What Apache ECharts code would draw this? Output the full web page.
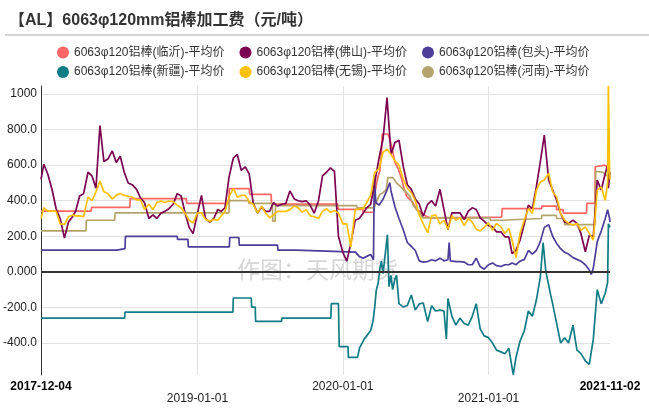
<!DOCTYPE html>
<html><head><meta charset="utf-8">
<script src="https://cdn.jsdelivr.net/npm/echarts/dist/echarts.min.js"></script>
<style>html,body{margin:0;padding:0;background:#fff}#c{width:649px;height:419px}</style>
</head><body><div id="c"></div>
<script>
const titleText = '【AL】6063φ120mm铝棒加工费（元/吨）';
const seriesNames = ['6063φ120铝棒(临沂)-平均价','6063φ120铝棒(佛山)-平均价','6063φ120铝棒(包头)-平均价','6063φ120铝棒(新疆)-平均价','6063φ120铝棒(无锡)-平均价','6063φ120铝棒(河南)-平均价'];
const xLabelDates = ['2017-12-04','2019-01-01','2020-01-01','2021-01-01','2021-11-02'];
const yearLines = ['2019-01-01','2020-01-01','2021-01-01'];

const gridDates = [
'2017-12-04','2017-12-11','2017-12-21',
'2018-01-01','2018-01-11','2018-01-21','2018-02-01','2018-02-11','2018-02-21','2018-03-01','2018-03-11','2018-03-21','2018-04-01','2018-04-11','2018-04-21','2018-05-01','2018-05-11','2018-05-21','2018-06-01','2018-06-11','2018-06-21','2018-07-01','2018-07-11','2018-07-21','2018-08-01','2018-08-11','2018-08-21','2018-09-01','2018-09-11','2018-09-21','2018-10-01','2018-10-11','2018-10-21','2018-11-01','2018-11-11','2018-11-21','2018-12-01','2018-12-11','2018-12-21',
'2019-01-01','2019-01-11','2019-01-21','2019-02-01','2019-02-11','2019-02-21','2019-03-01','2019-03-11','2019-03-21','2019-04-01','2019-04-11','2019-04-21','2019-05-01','2019-05-11','2019-05-21','2019-06-01','2019-06-11','2019-06-21','2019-07-01','2019-07-11','2019-07-21','2019-08-01','2019-08-11','2019-08-21','2019-09-01','2019-09-11','2019-09-21','2019-10-01','2019-10-11','2019-10-21','2019-11-01','2019-11-11','2019-11-21','2019-12-01','2019-12-11','2019-12-21',
'2020-01-01','2020-01-11','2020-01-21','2020-02-01','2020-02-11','2020-02-21','2020-03-01','2020-03-11','2020-03-21','2020-04-01','2020-04-11','2020-04-21','2020-05-01','2020-05-11','2020-05-21','2020-06-01','2020-06-11','2020-06-21','2020-07-01','2020-07-11','2020-07-21','2020-08-01','2020-08-11','2020-08-21','2020-09-01','2020-09-11','2020-09-21','2020-10-01','2020-10-11','2020-10-21','2020-11-01','2020-11-11','2020-11-21','2020-12-01','2020-12-11','2020-12-21',
'2021-01-01','2021-01-11','2021-01-21','2021-02-01','2021-02-11','2021-02-21','2021-03-01','2021-03-11','2021-03-21','2021-04-01','2021-04-11','2021-04-21','2021-05-01','2021-05-11','2021-05-21','2021-06-01','2021-06-11','2021-06-21','2021-07-01','2021-07-11','2021-07-21','2021-08-01','2021-08-11','2021-08-21','2021-09-01','2021-09-11','2021-09-21','2021-10-01','2021-10-11','2021-10-21','2021-10-27','2021-10-29','2021-11-01','2021-11-02'
];

// 佛山
const foshanVals = [
520,605,550,
460,355,300, 190,280,310, 341,426,440, 560,540,470, 823,620,634, 680,615,650, 560,500,490, 464,415,389, 300,320,300, 330,340,355, 380,440,426, 330,250,215,
330,430,300, 280,300,351, 340,360,530, 640,660,570, 590,550,385, 330,365,340, 340,390,370, 380,385,455, 410,400,395, 400,375,330, 400,540,560, 585,565,200,
110,60,160, 290,300,330, 360,380,500, 640,747,980, 660,728,740, 590,490,464, 410,380,313, 380,400,370, 464,350,238, 332,332,332, 294,341,360, 351,304,285,
260,253,225, 225,197,197, 103,122,178, 272,375,356, 478,619,769, 516,460,403, 328,281,272, 291,272,216, 113,206,197, 516,460,553, 600,470,540,560
];
// 无锡
const wuxiVals = [
300,360,341,
341,341,270, 266,310,320, 315,315,310, 420,400,450, 510,450,440, 410,430,440, 430,425,420, 405,405,351, 380,350,390, 398,390,398, 395,375,360, 330,290,275,
332,332,295, 285,295,290, 313,340,420, 470,420,430, 430,395,380, 330,370,330, 304,320,340, 340,340,350, 370,360,335, 350,315,310, 300,340,355, 335,345,330,
270,270,140, 350,355,355, 390,430,558, 580,672,690, 660,625,600, 520,470,445, 400,320,270, 220,315,320, 270,290,240, 315,290,305, 260,300,280, 240,230,250,
275,234,272, 253,216,244, 178,80,216, 291,356,328, 460,506,516, 553,450,422, 328,291,272, 263,272,234, 253,216,178, 460,478,403, 497,1045,560,520
];
// 临沂
const linyiPts = [
['2017-12-04',341],['2018-04-09',341],['2018-04-10',362],['2018-07-15',362],['2018-07-16',412],['2018-12-04',412],['2018-12-05',385],['2019-03-21',385],['2019-03-22',468],['2019-05-11',468],['2019-05-12',436],['2019-07-05',436],['2019-07-06',381],['2019-12-19',381],['2019-12-20',351],['2020-02-20',351],['2020-02-21',335],['2020-03-19',335],['2020-03-22',445],['2020-03-26',502],['2020-03-30',540],['2020-04-03',568],['2020-04-07',672],['2020-04-09',775],['2020-04-23',775],['2020-04-28',747],['2020-05-02',709],['2020-05-06',672],['2020-05-11',615],['2020-05-19',580],['2020-05-28',521],['2020-06-01',483],['2020-06-09',426],['2020-06-17',408],['2020-06-25',389],['2020-07-04',351],['2020-07-12',341],['2020-07-20',323],['2020-07-29',313],['2020-08-06',304],['2021-02-03',308],['2021-02-04',355],['2021-05-14',355],['2021-05-15',370],['2021-06-20',370],['2021-06-21',350],['2021-07-07',350],['2021-07-08',330],['2021-09-04',330],['2021-09-05',385],['2021-09-25',385],['2021-09-26',591],['2021-10-20',600],['2021-11-02',580]
];
// 包头
const baotouPts = [
['2017-12-04',122],['2018-06-13',122],['2018-06-14',131],['2018-07-03',131],['2018-07-04',200],['2018-11-11',200],['2018-11-12',183],['2018-12-08',183],['2018-12-09',140],['2019-03-22',140],['2019-03-23',193],['2019-04-15',193],['2019-04-16',150],['2019-07-21',150],['2019-07-22',122],['2019-09-06',122],['2019-09-07',111],['2020-02-02',111],
['2020-02-11',87],['2020-02-21',77],['2020-03-01',87],['2020-03-11',98],['2020-03-18',68],['2020-03-20',540],['2020-03-24',390],['2020-04-01',375],['2020-04-11',408],['2020-04-21',460],['2020-04-28',502],['2020-05-01',455],['2020-05-11',365],['2020-05-21',300],['2020-06-01',235],['2020-06-11',165],['2020-06-21',143],['2020-07-01',120],['2020-07-11',62],['2020-07-21',55],['2020-08-01',58],['2020-08-11',68],['2020-08-21',62],['2020-09-01',77],['2020-09-11',62],['2020-09-21',68],['2020-09-24',165],['2020-09-27',62],['2020-10-11',58],['2020-10-21',58],['2020-11-01',55],['2020-11-11',40],['2020-11-21',40],['2020-12-01',77],['2020-12-11',30],['2020-12-21',15],
['2021-01-01',40],['2021-01-11',50],['2021-01-21',35],['2021-02-01',30],['2021-02-11',40],['2021-02-21',40],['2021-03-01',50],['2021-03-11',40],['2021-03-21',60],['2021-04-01',70],['2021-04-11',120],['2021-04-21',100],['2021-05-01',120],['2021-05-11',170],['2021-05-21',250],['2021-06-01',265],['2021-06-11',200],['2021-06-21',160],['2021-07-01',130],['2021-07-11',110],['2021-07-21',100],['2021-08-01',80],['2021-08-11',70],['2021-08-21',60],['2021-09-01',40],['2021-09-11',10],['2021-09-16',-15],['2021-09-21',20],['2021-10-01',170],['2021-10-11',230],['2021-10-21',300],['2021-10-27',350],['2021-10-29',340],['2021-11-01',300],['2021-11-02',280]
];
// 新疆
const xinjiangPts = [
['2017-12-04',-260],['2018-07-02',-260],['2018-07-03',-226],['2019-03-31',-226],['2019-04-01',-147],['2019-05-16',-147],['2019-05-17',-198],['2019-05-26',-198],['2019-05-27',-279],['2019-07-31',-279],['2019-08-01',-260],['2019-12-02',-260],['2019-12-03',-179],['2019-12-21',-179],['2019-12-23',-421],['2020-01-14',-421],['2020-01-15',-481],['2020-02-07',-481],
['2020-02-12',-428],['2020-02-24',-377],['2020-03-01',-360],['2020-03-11',-330],['2020-03-17',-274],['2020-03-21',-200],['2020-03-25',-104],['2020-03-30',-60],['2020-04-03',20],['2020-04-07',60],['2020-04-11',-10],['2020-04-15',-20],['2020-04-22',209],['2020-04-26',-83],['2020-05-01',-20],['2020-05-05',-100],['2020-05-11',-40],['2020-05-15',-20],['2020-05-21',-179],['2020-06-01',-198],['2020-06-11',-189],['2020-06-21',-130],['2020-07-01',-215],['2020-07-11',-180],['2020-07-21',-175],['2020-08-01',-280],['2020-08-11',-190],['2020-08-21',-220],['2020-09-01',-215],['2020-09-11',-220],['2020-09-17',-377],['2020-09-21',-150],['2020-10-01',-250],['2020-10-11',-300],['2020-10-21',-260],['2020-11-01',-290],['2020-11-11',-300],['2020-11-21',-250],['2020-12-01',-179],['2020-12-11',-320],['2020-12-21',-360],
['2021-01-01',-370],['2021-01-11',-400],['2021-01-21',-440],['2021-02-01',-450],['2021-02-11',-460],['2021-02-21',-430],['2021-03-01',-538],['2021-03-04',-578],['2021-03-11',-480],['2021-03-21',-390],['2021-04-01',-330],['2021-04-11',-220],['2021-04-21',-250],['2021-05-01',-160],['2021-05-11',-30],['2021-05-18',165],['2021-05-25',0],['2021-06-01',-75],['2021-06-06',-130],['2021-06-11',-180],['2021-06-21',-290],['2021-07-01',-400],['2021-07-11',-370],['2021-07-21',-400],['2021-08-01',-300],['2021-08-11',-440],['2021-08-21',-460],['2021-09-01',-500],['2021-09-11',-520],['2021-09-21',-380],['2021-10-01',-100],['2021-10-11',-180],['2021-10-21',-120],['2021-10-27',-60],['2021-10-29',270],['2021-11-01',260],['2021-11-02',250]
];
// 河南
const henanPts = [
['2017-12-04',230],['2018-03-27',230],['2018-03-28',290],['2018-06-07',290],['2018-06-08',332],['2019-03-21',332],['2019-03-22',400],['2019-05-09',400],['2019-05-10',385],['2019-07-08',385],['2019-07-09',285],['2019-07-15',285],['2019-07-16',372],['2020-02-05',372],['2020-02-06',360],['2020-03-20',360],['2020-03-26',398],['2020-04-03',436],['2020-04-11',445],['2020-04-19',464],['2020-04-23',530],['2020-05-06',530],['2020-05-14',502],['2020-05-23',483],['2020-06-01',464],['2020-06-09',445],['2020-06-17',426],['2020-06-25',379],['2020-07-04',351],['2020-07-12',332],['2020-07-20',304],['2021-01-05',304],['2021-01-06',290],['2021-02-03',290],['2021-02-04',300],['2021-05-14',300],['2021-05-15',318],['2021-06-20',318],['2021-06-21',300],['2021-07-10',300],['2021-07-11',265],['2021-09-26',265],['2021-09-27',565],['2021-10-15',560],['2021-10-22',545],['2021-11-02',535]
];

const colors = ['#ff6666','#7b0051','#4e3d99','#117c85','#ffc000','#b4a46c'];
// date string -> UTC timestamp (representation only)
const ts = s => { const p = s.split('-').map(Number); return Date.UTC(p[0], p[1] - 1, p[2]); };
const ds = v => new Date(v).toISOString().slice(0, 10);
const pts = arr => arr.map(p => [ts(p[0]), p[1]]);
const zip = (d, v) => d.map((x, i) => [ts(x), v[i]]);

const chart = echarts.init(document.getElementById('c'), null, {renderer: 'canvas'});
const FF = "'Liberation Sans', 'Noto Sans CJK SC', sans-serif";
function mk(name, data, color, z) {
  return {name, type: 'line', data, symbol: 'none', showSymbol: false, z,
    lineStyle: {color, width: 1.7}, itemStyle: {color}, emphasis: {disabled: true}};
}
const legendCommon = {icon: 'circle', itemWidth: 12, itemHeight: 12, itemGap: 15, left: 52,
  textStyle: {fontSize: 12, color: '#333', fontFamily: FF}};
const s0 = mk(seriesNames[0], pts(linyiPts), colors[0], 2);
s0.markLine = {silent: true, symbol: 'none', label: {show: false},
  lineStyle: {color: '#333', width: 2, type: 'solid'}, data: [{yAxis: 0}]};
chart.setOption({
  animation: false,
  textStyle: {fontFamily: FF},
  title: {text: titleText, left: 4, top: 8, textStyle: {fontSize: 16, fontWeight: 'bold', color: '#333', fontFamily: FF}},
  legend: [
    Object.assign({}, legendCommon, {top: 41.5, data: seriesNames.slice(0, 3)}),
    Object.assign({}, legendCommon, {top: 61, data: seriesNames.slice(3)})
  ],
  graphic: [
    {type: 'line', shape: {x1: 5, y1: 35, x2: 649, y2: 35}, style: {stroke: '#aaa', lineWidth: 1}, z: 1},
    {type: 'text', left: 237, top: 260, z: 1, style: {text: '作图：天风期货', fontSize: 23, fill: '#d6d6d6', fontFamily: FF}}
  ],
  grid: {left: 41, right: 39, top: 86, bottom: 44, containLabel: false, outerBoundsMode: 'none'},
  xAxis: {
    type: 'value', min: ts('2017-12-04'), max: ts('2021-11-02'),
    axisLine: {show: false},
    axisTick: {show: false, customValues: yearLines.map(ts)},
    splitLine: {show: true, lineStyle: {color: '#e2e2e2', width: 1}},
    axisLabel: {
      customValues: xLabelDates.map(ts), margin: 6, hideOverlap: false,
      formatter: function (v) {
        const s = ds(v);
        if (s === '2017-12-04' || s === '2021-11-02') return '{b|' + s + '}';
        if (s === '2019-01-01' || s === '2021-01-01') return '{low|' + s + '}';
        return '{n|' + s + '}';
      },
      rich: {
        b: {fontSize: 12, fontWeight: 'bold', color: '#000', fontFamily: FF},
        n: {fontSize: 12, color: '#222', fontFamily: FF},
        low: {fontSize: 12, color: '#222', fontFamily: FF, padding: [12, 0, 0, 0]}
      }
    }
  },
  yAxis: {
    type: 'value', min: -580, max: 1045, splitNumber: 8,
    axisLine: {show: true, lineStyle: {color: '#333', width: 1}},
    axisTick: {show: false},
    axisLabel: {showMinLabel: false, showMaxLabel: false, margin: 4, fontSize: 12, color: '#222', fontFamily: FF,
      formatter: v => Number(v).toPrecision(4)},
    splitLine: {show: true, showMinLine: false, showMaxLine: false, lineStyle: {color: '#e2e2e2', width: 1}}
  },
  series: [
    s0,
    mk(seriesNames[5], pts(henanPts), colors[5], 2),
    mk(seriesNames[2], pts(baotouPts), colors[2], 2),
    mk(seriesNames[3], pts(xinjiangPts), colors[3], 2),
    mk(seriesNames[1], zip(gridDates, foshanVals), colors[1], 2),
    mk(seriesNames[4], zip(gridDates, wuxiVals), colors[4], 2)
  ]
});
</script></body></html>
